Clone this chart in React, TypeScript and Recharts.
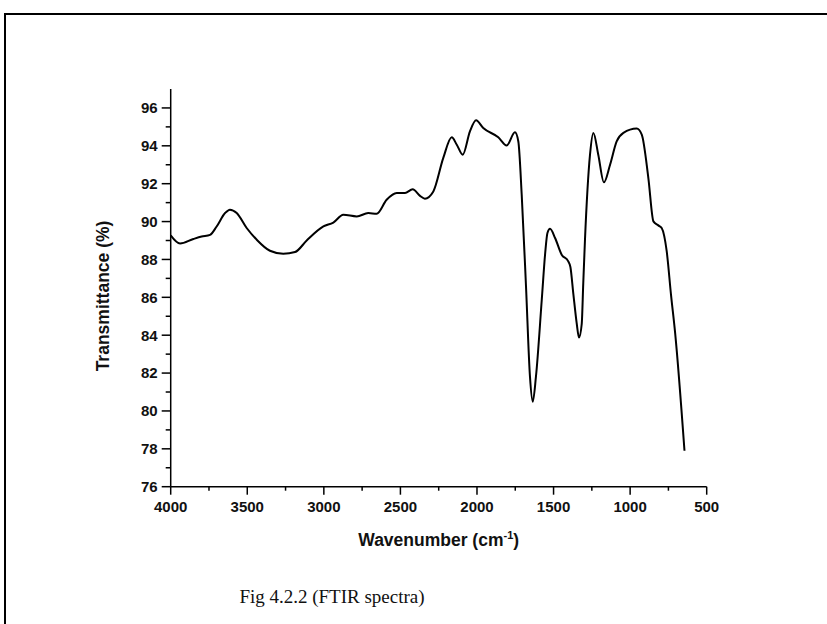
import { LineChart, Line, XAxis, YAxis } from "recharts";

// wavenumber (cm-1), high to low
const wavenumbers = [
  4000, 3939, 3852, 3798, 3743, 3700, 3645, 3613, 3569, 3504, 3438, 3352, 3265,
  3188, 3112, 3003, 2938, 2873, 2785, 2710, 2655, 2590, 2524, 2470, 2420, 2372,
  2340, 2285, 2220, 2165, 2132, 2093, 2046, 2006, 1959, 1861, 1806, 1752, 1730,
  1708, 1680, 1654, 1636, 1615, 1577, 1555, 1540, 1523, 1490, 1447, 1404, 1390,
  1371, 1349, 1334, 1316, 1306, 1295, 1262, 1240, 1208, 1171, 1131, 1088, 1044,
  957, 924, 881, 848, 816, 794, 761, 733, 706, 645,
];
// transmittance (%)
const transmittance = [
  89.27, 88.84, 89.08, 89.21, 89.3, 89.74, 90.45, 90.63, 90.45, 89.66, 89.04,
  88.46, 88.3, 88.39, 89.0, 89.74, 89.95, 90.36, 90.27, 90.45, 90.41, 91.15,
  91.51, 91.51, 91.7, 91.36, 91.21, 91.59, 93.36, 94.45, 94.06, 93.53, 94.76,
  95.35, 94.94, 94.45, 94.02, 94.71, 94.23, 91.42, 86.6, 81.81, 80.49, 81.81,
  85.87, 88.3, 89.4, 89.62, 89.13, 88.25, 87.9, 87.6, 86.2, 84.64, 83.88, 84.6,
  86.75, 89.0, 93.53, 94.68, 93.53, 92.07, 93.0, 94.23, 94.68, 94.91, 94.59,
  92.3, 90.01, 89.8, 89.66, 88.42, 86.13, 84.11, 77.9,
];

const xTicks = [
  4000, 3750, 3500, 3250, 3000, 2750, 2500, 2250, 2000, 1750, 1500, 1250, 1000,
  750, 500,
];
const yTicks = [
  76, 77, 78, 79, 80, 81, 82, 83, 84, 85, 86, 87, 88, 89, 90, 91, 92, 93, 94,
  95, 96,
];

const data = wavenumbers.map((wn, i) => ({ wn, t: transmittance[i] }));

const labelFont = "'Liberation Sans', Arial, sans-serif";

function XTick(props: any) {
  const { x, y, payload } = props;
  const major = payload.value % 500 === 0;
  return (
    <g>
      <line x1={x} x2={x} y1={y} y2={y + (major ? 8 : 4)} stroke="#000" strokeWidth={1.5} />
      {major && (
        <text x={x} y={y + 25} textAnchor="middle" fontSize={15} fontWeight="bold" fontFamily={labelFont} fill="#111">
          {payload.value}
        </text>
      )}
    </g>
  );
}

function YTick(props: any) {
  const { x, y, payload } = props;
  const major = payload.value % 2 === 0;
  return (
    <g>
      <line x1={x - (major ? 9 : 5)} x2={x} y1={y} y2={y} stroke="#000" strokeWidth={1.5} />
      {major && (
        <text x={x - 13} y={y} dy="0.36em" textAnchor="end" fontSize={15} fontWeight="bold" fontFamily={labelFont} fill="#111">
          {payload.value}
        </text>
      )}
    </g>
  );
}

export default function App() {
  return (
    <div style={{ position: "absolute", left: 0, top: 0, width: 827, height: 624, background: "#fff", overflow: "hidden" }}>
      <div
        style={{
          position: "absolute",
          left: 4,
          top: 13,
          width: 860,
          height: 660,
          border: "2px solid #000",
          boxSizing: "border-box",
        }}
      />
      <LineChart
        width={827}
        height={624}
        data={data}
        margin={{ top: 89, right: 120.3, bottom: 107.3, left: 110.7 }}
        style={{ position: "absolute", left: 0, top: 0 }}
      >
        <XAxis
          dataKey="wn"
          type="number"
          domain={[500, 4000]}
          reversed
          ticks={xTicks}
          height={30}
          tickSize={0}
          tickMargin={0}
          tickLine={false}
          tick={<XTick />}
          axisLine={{ stroke: "#000", strokeWidth: 1.5 }}
          interval={0}
        />
        <XAxis
          xAxisId="top"
          orientation="top"
          type="number"
          domain={[500, 4000]}
          reversed
          height={0}
          tick={false}
          tickLine={false}
          axisLine={{ stroke: "#000", strokeWidth: 1.5 }}
        />
        <YAxis
          type="number"
          domain={[76, 97]}
          ticks={yTicks}
          width={60}
          tickSize={0}
          tickMargin={0}
          tickLine={false}
          tick={<YTick />}
          axisLine={{ stroke: "#000", strokeWidth: 1.5 }}
          interval={0}
        />
        <YAxis
          yAxisId="right"
          orientation="right"
          type="number"
          domain={[76, 97]}
          width={0}
          tick={false}
          tickLine={false}
          axisLine={{ stroke: "#000", strokeWidth: 1.5 }}
        />
        <Line
          dataKey="t"
          type="monotone"
          stroke="#000"
          strokeWidth={2}
          dot={false}
          isAnimationActive={false}
        />
      </LineChart>
      <div
        style={{
          position: "absolute",
          left: 438.7,
          top: 540,
          transform: "translate(-50%, -50%)",
          fontFamily: labelFont,
          fontWeight: "bold",
          fontSize: 17.5,
          whiteSpace: "nowrap",
          color: "#111",
        }}
      >
        Wavenumber (cm<sup style={{ fontSize: 11 }}>-1</sup>)
      </div>
      <div
        style={{
          position: "absolute",
          left: 103,
          top: 296,
          transform: "translate(-50%, -50%) rotate(-90deg)",
          fontFamily: labelFont,
          fontWeight: "bold",
          fontSize: 17.5,
          whiteSpace: "nowrap",
          color: "#111",
        }}
      >
        Transmittance (%)
      </div>
      <div
        style={{
          position: "absolute",
          left: 332,
          top: 597,
          transform: "translate(-50%, -50%)",
          fontFamily: "'Liberation Serif', 'Times New Roman', serif",
          fontSize: 19,
          whiteSpace: "nowrap",
          color: "#111",
        }}
      >
        Fig 4.2.2 (FTIR spectra)
      </div>
    </div>
  );
}
